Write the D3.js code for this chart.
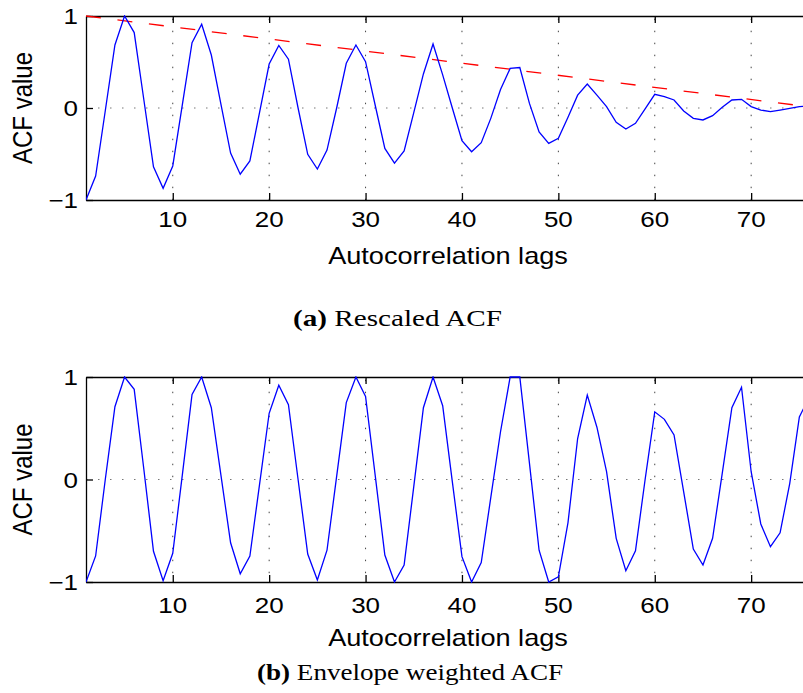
<!DOCTYPE html>
<html>
<head>
<meta charset="utf-8">
<script src="https://cdn.jsdelivr.net/npm/d3@7"></script>
<style>
  body { margin: 0; background: #fff; }
  svg { display: block; }
</style>
</head>
<body>
<svg width="803" height="693"></svg>
<script>
// lags shared by both panels
const lags = [1,2,3,4,5,6,7,8,9,10,11,12,13,14,15,16,17,18,19,20,
  21,22,23,24,25,26,27,28,29,30,31,32,33,34,35,36,37,38,39,40,
  41,42,43,44,45,46,47,48,49,50,51,52,53,54,55,56,57,58,59,60,
  61,62,63,64,65,66,67,68,69,70,71,72,73,74,75,76];

// (a) rescaled ACF
const rescaled = [-1.0,-0.74,-0.03,0.685,1.0,0.82,0.09,-0.64,-0.873,-0.63,
  0.04,0.71,0.91,0.576,0.04,-0.49,-0.72,-0.576,-0.05,0.478,
  0.68,0.53,0.0,-0.503,-0.663,-0.457,0.0,0.486,0.685,0.503,
  0.03,-0.44,-0.60,-0.467,-0.05,0.37,0.696,0.36,0.0,-0.355,
  -0.475,-0.377,-0.11,0.2,0.43,0.44,0.05,-0.26,-0.385,-0.33,
  -0.10,0.14,0.26,0.14,0.015,-0.155,-0.228,-0.167,-0.01,0.149,
  0.123,0.087,-0.033,-0.112,-0.13,-0.083,0.007,0.087,0.094,0.015,
  -0.022,-0.04,-0.022,-0.004,0.015,0.02];

// red dashed envelope, end points
const envLags = [1, 77];
const envVals = [1, 0];

// (b) envelope weighted ACF
const weighted = [-1.0,-0.746,0.0,0.71,1.0,0.88,0.1,-0.70,-0.987,-0.72,
  0.05,0.83,1.0,0.70,0.04,-0.617,-0.92,-0.746,-0.05,0.646,
  0.92,0.73,0.0,-0.727,-0.98,-0.69,0.03,0.75,1.0,0.81,
  0.04,-0.737,-1.0,-0.834,-0.07,0.70,1.0,0.72,-0.02,-0.753,
  -1.0,-0.81,-0.17,0.466,1.0,1.0,0.16,-0.69,-1.0,-0.95,
  -0.42,0.40,0.824,0.51,0.076,-0.574,-0.89,-0.695,0.0,0.66,
  0.587,0.434,-0.12,-0.678,-0.834,-0.574,0.06,0.70,0.90,0.076,
  -0.434,-0.655,-0.52,-0.04,0.61,0.8];

const xTicks = [10,20,30,40,50,60,70];
const yTicks = [-1,0,1];
const xTitle = "Autocorrelation lags";
const yTitle = "ACF value";

const svg = d3.select('svg');
const sans = "'Liberation Sans', Arial, Helvetica, sans-serif";
const serif = "'Liberation Serif', 'Times New Roman', serif";
const stretch = 1.18; // the figure is a bit wider than tall

const x = d3.scaleLinear().domain([1, 76]).range([86, 809]);

function panel(top, bottom, values, opts) {
  const y = d3.scaleLinear().domain([-1, 1]).range([bottom, top]);
  const g = svg.append('g');

  const clipId = 'clip' + top;
  g.append('clipPath').attr('id', clipId)
    .append('rect').attr('x', 86).attr('y', top - 1)
    .attr('width', 803 - 86).attr('height', bottom - top + 2);

  // dotted grid
  g.selectAll('.vgrid').data(xTicks).join('line')
    .attr('x1', d => x(d)).attr('x2', d => x(d))
    .attr('y1', top).attr('y2', bottom)
    .attr('stroke', '#444').attr('stroke-width', 1)
    .attr('stroke-dasharray', '1.5,10.5').attr('stroke-dashoffset', 9.3);
  g.append('line')
    .attr('x1', x(1)).attr('x2', 803)
    .attr('y1', y(0)).attr('y2', y(0))
    .attr('stroke', '#777').attr('stroke-width', 1)
    .attr('stroke-dasharray', '1.5,10.5');

  // axes with inward ticks
  g.append('g').attr('transform', `translate(0,${bottom})`)
    .call(d3.axisBottom(x).tickValues(xTicks).tickSizeInner(-7).tickSizeOuter(0).tickFormat(''))
    .call(a => a.selectAll('path,line').attr('stroke', '#000').attr('stroke-width', 1.3));
  g.append('g').attr('transform', `translate(0,${top})`)
    .call(d3.axisTop(x).tickValues(xTicks).tickSizeInner(-7).tickSizeOuter(0).tickFormat(''))
    .call(a => a.selectAll('path,line').attr('stroke', '#000').attr('stroke-width', 1.3));
  g.append('g').attr('transform', `translate(${x(1)},0)`)
    .call(d3.axisLeft(y).tickValues(yTicks).tickSizeInner(-7).tickSizeOuter(0).tickFormat(''))
    .call(a => a.selectAll('path,line').attr('stroke', '#000').attr('stroke-width', 1.3));

  // envelope
  if (opts.envelope) {
    g.append('path')
      .datum(envLags.map((l, i) => [l, envVals[i]]))
      .attr('clip-path', `url(#${clipId})`)
      .attr('d', d3.line().x(d => x(d[0])).y(d => y(d[1])))
      .attr('fill', 'none').attr('stroke', '#ff0000').attr('stroke-width', 1.3)
      .attr('stroke-dasharray', '15,16.7');
  }

  // acf curve
  g.append('path')
    .datum(lags.map((l, i) => [l, values[i]]))
    .attr('clip-path', `url(#${clipId})`)
    .attr('d', d3.line().x(d => x(d[0])).y(d => y(d[1])))
    .attr('fill', 'none').attr('stroke', '#0000ff').attr('stroke-width', 1.3)
    .attr('stroke-linejoin', 'miter');

  // tick labels
  g.selectAll('.xl').data(xTicks).join('text')
    .attr('transform', d => `translate(${x(d)},${opts.tickBase}) scale(${stretch},1)`)
    .attr('text-anchor', 'middle')
    .attr('font-family', sans).attr('font-size', 22)
    .text(d => d);
  g.selectAll('.yl').data(yTicks).join('text')
    .attr('transform', d => `translate(78,${y(d) + 8}) scale(${stretch},1)`)
    .attr('text-anchor', 'end')
    .attr('font-family', sans).attr('font-size', 22)
    .text(d => d3.format('d')(d).replace('-', '\u2212'));

  // axis titles
  g.append('text')
    .attr('transform', `translate(448,${opts.titleBase}) scale(${stretch},1)`)
    .attr('text-anchor', 'middle')
    .attr('font-family', sans).attr('font-size', 23)
    .text(xTitle);
  g.append('text')
    .attr('transform', `translate(32,${(top + bottom) / 2}) scale(${stretch},1) rotate(-90)`)
    .attr('text-anchor', 'middle')
    .attr('font-family', sans).attr('font-size', 24)
    .text(yTitle);

  // caption
  const cap = g.append('text')
    .attr('transform', `translate(${opts.capX},${opts.capBase})`)
    .attr('font-family', serif).attr('font-size', 23)
    .attr('textLength', opts.capW).attr('lengthAdjust', 'spacingAndGlyphs');
  cap.append('tspan').attr('font-weight', 'bold').text(opts.capTag);
  cap.append('tspan').text(' ' + opts.capText);
}

panel(16, 200, rescaled, {
  envelope: true, tickBase: 227, titleBase: 264,
  capX: 293, capBase: 326, capW: 209, capTag: '(a)', capText: 'Rescaled ACF'
});
panel(377, 582, weighted, {
  envelope: false, tickBase: 613, titleBase: 646,
  capX: 257, capBase: 680, capW: 306, capTag: '(b)', capText: 'Envelope weighted ACF'
});
</script>
</body>
</html>
